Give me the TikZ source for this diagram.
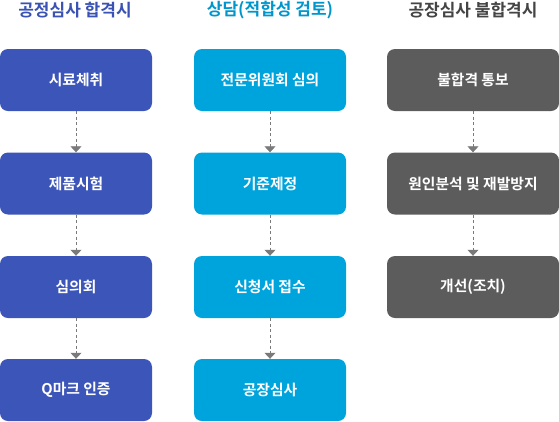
\documentclass[tikz,border=0pt]{standalone}
\usepackage{fontspec}
\setmainfont{Noto Sans CJK KR}[BoldFont={* Bold}]
\usetikzlibrary{arrows.meta}
\definecolor{cblue}{HTML}{3C55B9}
\definecolor{csky}{HTML}{00A4DC}
\definecolor{cgray}{HTML}{5C5C5C}
\definecolor{tblue}{HTML}{3A52B4}
\definecolor{tsky}{HTML}{0096CC}
\definecolor{tgray}{HTML}{444444}
\definecolor{arr}{HTML}{7A7A7A}
\tikzset{
  box/.style={rounded corners=8pt, minimum width=152pt, minimum height=62pt, inner sep=0pt, text=white, font=\bfseries\fontsize{14.8}{17}\selectfont},
  ttl/.style={font=\bfseries\fontsize{17}{20}\selectfont, inner sep=0pt},
  conn/.style={draw=arr, dashed, dash pattern=on 3pt off 2.5pt, line width=0.8pt, -{Triangle[width=11pt,length=6pt,fill=arr]}},
}
\begin{document}
\begin{tikzpicture}[x=1pt,y=-1pt]
\useasboundingbox (0,0) rectangle (559,421);
\node[ttl, text=tblue] (t1) at (75,10.5) {공정심사 합격시};
\node[ttl, text=tsky] (t2) at (270,10.5) {상담(적합성 검토)};
\node[ttl, text=tgray] (t3) at (473,10.5) {공장심사 불합격시};

\node[box, fill=cblue] (a1) at (76,80) {시료체취};
\node[box, fill=cblue] (a2) at (76,183.5) {제품시험};
\node[box, fill=cblue] (a3) at (76,287) {심의회};
\node[box, fill=cblue] (a4) at (76,390) {Q마크 인증};

\node[box, fill=csky] (b1) at (270,80) {전문위원회 심의};
\node[box, fill=csky] (b2) at (270,183.5) {기준제정};
\node[box, fill=csky] (b3) at (270,287) {신청서 접수};
\node[box, fill=csky] (b4) at (270,390) {공장심사};

\node[box, fill=cgray, minimum width=172pt] (c1) at (473,80) {불합격 통보};
\node[box, fill=cgray, minimum width=172pt] (c2) at (473,183.5) {원인분석 및 재발방지};
\node[box, fill=cgray, minimum width=172pt] (c3) at (473,287) {개선(조치)};

\foreach \u/\v in {a1/a2,a2/a3,a3/a4,b1/b2,b2/b3,b3/b4,c1/c2,c2/c3}
  \draw[conn] (\u.south) -- (\v.north);
\end{tikzpicture}
\end{document}
